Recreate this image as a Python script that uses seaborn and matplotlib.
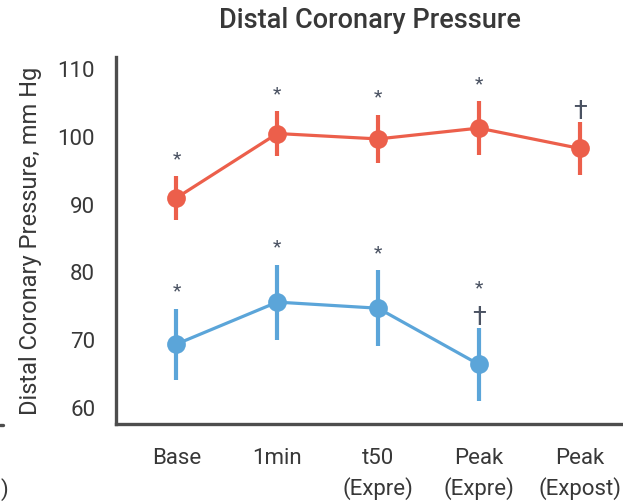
import matplotlib
matplotlib.use("Agg")
import matplotlib.pyplot as plt
from matplotlib.lines import Line2D
import seaborn as sns
import numpy as np
import pandas as pd

# Time points along the protocol
categories = ["Base", "1min", "t50\n(Expre)", "Peak\n(Expre)", "Peak\n(Expost)"]

# Distal coronary pressure (mm Hg), mean and half-width of the error bars
red_mean = [91.0, 100.5, 99.7, 101.3, 98.3]
red_err = [3.2, 3.3, 3.55, 3.95, 3.95]
blue_mean = [69.4, 75.6, 74.7, 66.4, np.nan]
blue_err = [5.25, 5.55, 5.6, 5.45, np.nan]

# Significance markers per time point (stacked bottom to top)
red_marks = [["*"], ["*"], ["*"], ["*"], ["\u2020"]]
blue_marks = [["*"], ["*"], ["*"], ["\u2020", "*"], []]

red_color = "#EC5F4B"
blue_color = "#5BA5D9"
ink = "#383838"
mark_ink = "#4A5262"
spine_color = "#4D4D4D"

sns.set_theme(style="white")
plt.rcParams["font.family"] = ["Roboto", "DejaVu Sans"]

fig = plt.figure(figsize=(6.23, 5.03), dpi=100)
ax = fig.add_axes([116 / 623, 1 - 424 / 503, 1 - 116 / 623, (424 - 57) / 503])

x = np.arange(len(categories))
df = pd.DataFrame({
    "x": np.concatenate([x, x]),
    "pressure": red_mean + blue_mean,
    "group": ["red"] * len(x) + ["blue"] * len(x),
})

sns.lineplot(data=df, x="x", y="pressure", hue="group",
             palette={"red": red_color, "blue": blue_color},
             marker="o", markersize=13.5, markeredgewidth=0, linewidth=2.3,
             legend=False, ax=ax, zorder=3)

ax.errorbar(x, red_mean, yerr=red_err, fmt="none", ecolor=red_color,
            elinewidth=3.0, capsize=0, zorder=2)
ax.errorbar(x, blue_mean, yerr=blue_err, fmt="none", ecolor=blue_color,
            elinewidth=3.0, capsize=0, zorder=2)


def draw_marks(means, errs, marks):
    """Stack significance symbols above the top of each error bar."""
    for i, (m, e, syms) in enumerate(zip(means, errs, marks)):
        if np.isnan(m):
            continue
        dy = 0.0
        for s in syms:
            if s == "*":
                ax.annotate(s, xy=(i, m + e), xytext=(0, 6 + dy),
                            textcoords="offset points", ha="center",
                            va="bottom", fontsize=14, color=mark_ink)
                dy += 18
            else:
                ax.annotate(s, xy=(i, m + e), xytext=(0, -2 + dy),
                            textcoords="offset points", ha="center",
                            va="bottom", fontsize=18, color=mark_ink)
                dy += 16


draw_marks(red_mean, red_err, red_marks)
draw_marks(blue_mean, blue_err, blue_marks)

ax.set_xlim(-0.60, 4.43)
ax.set_ylim(57.6, 111.8)
ax.set_xticks(x)
ax.set_xticklabels(categories, linespacing=1.45)
ax.set_yticks([60, 70, 80, 90, 100, 110])

for side in ("top", "right"):
    ax.spines[side].set_visible(False)
for side in ("left", "bottom"):
    ax.spines[side].set_color(spine_color)
    ax.spines[side].set_linewidth(2.4)

ax.tick_params(axis="both", which="major", direction="out", length=7,
               width=2.4, color=spine_color, labelsize=16, labelcolor=ink)
ax.tick_params(axis="x", pad=10)
ax.tick_params(axis="y", pad=8)

ax.set_xlabel("")
ax.set_ylabel("Distal Coronary Pressure, mm Hg", fontsize=17, color=ink,
              labelpad=11)
ax.set_title("Distal Coronary Pressure", fontsize=19.5, color=ink, pad=21,
             fontweight="medium")

# Edge of the neighbouring panel at the left border
fig.add_artist(Line2D([0, 3 / 623], [1 - 425 / 503] * 2, color=spine_color,
                      linewidth=2.4, transform=fig.transFigure))
fig.text(0.5 / 623, 1 - 490 / 503, ")", fontsize=16, color=ink,
         ha="left", va="center")

fig.savefig("out.png", dpi=100)
